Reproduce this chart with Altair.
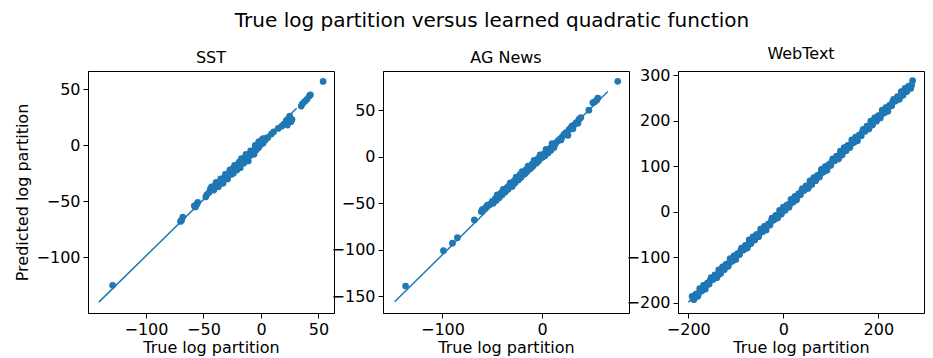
import altair as alt
import pandas as pd

BLUE = "#1f77b4"
FONT = "DejaVu Sans"

# ---------------- SST ----------------
sst_x = [-47, -45, -44, -42, -41, -40, -38, -37, -36, -34, -33, -32, -30, -29, -28, -26, -25, -24,
         -22, -21, -20, -19, -18, -16, -15, -14, -13, -12, -11, -10, -9, -8, -7, -6, -5, -4, -3, -2,
         -1, 0, 1, 2, 3, 1, 4, 6, 9, 11, 15, 18, 20, 22, 24, 25, 26, 27, 23, 35, 36, 38, 40, 42, 43,
         54, -48, -55, -56, -57, -58, -68, -69, -70, -129,
         -43, -39, -35, -31, -27, -23, -17, -13, -9, -5, -2, 2, 0,
         -40, -33, -26, -19, -12, -6]
sst_y = [-44, -42, -39, -38, -40, -36, -35, -37, -33, -31, -34, -29, -27, -30, -25, -24, -21, -25,
         -19, -22, -17, -15, -20, -14, -16, -11, -13, -10, -14, -8, -9, -6, -5, -8, -3, -4, -1, -2,
         0, 1, 3, 2, 6, 5, 5, 7, 10, 12, 15, 17, 19, 22, 24, 26, 21, 23, 18, 35, 37, 39, 41, 44, 45,
         57, -46, -51, -53, -55, -54, -64, -67, -68, -125,
         -37, -33, -30, -26, -22, -18, -12, -8, -5, 0, 3, 6, 4,
         -38, -32, -26, -18, -13, -6]
sst_line_x = [-141, 31]
sst_line_y = [-140, 33]

# ---------------- AG News ----------------
ag_x = [-52, -50, -49, -47, -46, -44, -43, -41, -40, -38, -37, -35, -34, -33, -31, -30, -28, -27,
        -25, -24, -22, -21, -19, -18, -16, -15, -13, -12, -10, -9, -7, -6, -4, -3, -1, 0, 2, 3, 5,
        6, 8, 9, 11, 12, 14, 16, 18, 20, 22, 24, 26, 27, 29, 30, 32, 34, 35, 37, 39, 47, 51, 53, 55,
        56, 76, -55, -57, -60, -61, -68, -85, -90, -99, -137,
        -45, -39, -32, -26, -20, -14, -8, -2, 4, 10, -36, -29, -23, -17, -11, -5, 1, 7, 13, 19,
        25, 31, 36]
ag_y = [-51, -48, -50, -45, -47, -42, -44, -39, -41, -36, -38, -33, -35, -31, -29, -32, -26, -28,
        -23, -25, -19, -22, -17, -19, -14, -16, -11, -13, -8, -10, -5, -7, -2, -4, 1, -1, 3, 1, 6,
        4, 9, 7, 12, 10, 15, 17, 19, 21, 24, 26, 23, 29, 31, 33, 34, 36, 37, 40, 42, 50, 58, 59, 61,
        63, 81, -52, -55, -57, -59, -68, -87, -93, -101, -139,
        -41, -35, -28, -22, -16, -10, -4, 2, 8, 14, -36, -30, -24, -18, -12, -6, 0, 6, 13, 18,
        25, 30, 36]
ag_line_x = [-148, 66]
ag_line_y = [-156, 70]

# ---------------- WebText ----------------
web_x = [-192, -188, -184, -180, -176, -172, -168, -164, -160, -156, -152, -148, -144, -140, -136,
         -132, -128, -124, -120, -116, -112, -108, -104, -100, -96, -92, -88, -84, -80, -76, -72,
         -68, -64, -60, -56, -52, -48, -44, -40, -36, -32, -28, -24, -20, -16, -12, -8, -4, 0, 4, 8,
         12, 16, 20, 24, 28, 32, 36, 40, 44, 48, 52, 56, 60, 64, 68, 72, 76, 80, 84, 88, 92, 96,
         100, 104, 108, 112, 116, 120, 124, 128, 132, 136, 140, 144, 148, 152, 156, 160, 164, 168,
         172, 176, 180, 184, 188, 192, 196, 200, 204, 208, 212, 216, 220, 224, 228, 232, 236, 240,
         244, 248, 252, 256, 260, 264, 268, 272,
         -190, -186, -182, -178, -174, -170, -166, -162, -158, -154, -150, -146, -142, -138, -134,
         -130, -126, -122, -118, -114, -110, -106, -102, -98, -94, -90, -86, -82, -78, -74, -70,
         -66, -62, -58, -54, -50, -46, -42, -38, -34, -30, -26, -22, -18, -14, -10, -6, -2, 2, 6,
         10, 14, 18, 22, 26, 30, 34, 38, 42, 46, 50, 54, 58, 62, 66, 70, 74, 78, 82, 86, 90, 94,
         98, 102, 106, 110, 114, 118, 122, 126, 130, 134, 138, 142, 146, 150, 154, 158, 162, 166,
         170, 174, 178, 182, 186, 190, 194, 198, 202, 206, 210, 214, 218, 222, 226, 230, 234, 238,
         242, 246, 250, 254, 258, 262, 266, 270]
web_y = [-186, -193, -181, -186, -169, -174, -162, -170, -157, -159, -145, -149, -139, -145, -128,
         -136, -121, -127, -115, -120, -103, -109, -97, -105, -92, -94, -80, -84, -74, -80, -62,
         -70, -55, -62, -50, -55, -38, -44, -32, -40, -27, -29, -14, -18, -8, -14, 3, -5, 10, 3, 15,
         10, 27, 21, 33, 26, 39, 37, 51, 47, 57, 51, 68, 60, 75, 68, 80, 76, 93, 87, 99, 91, 104,
         102, 116, 112, 122, 116, 133, 125, 141, 134, 146, 141, 158, 152, 164, 156, 169, 167, 181,
         177, 188, 182, 199, 191, 206, 199, 211, 206, 223, 217, 229, 221, 234, 233, 247, 243, 253,
         247, 264, 256, 271, 264, 276, 271, 288,
         -192, -184, -182, -179, -172, -172, -162, -161, -159, -151, -149, -146, -140, -140, -130,
         -129, -127, -118, -116, -113, -107, -107, -97, -96, -94, -86, -84, -81, -75, -74, -64,
         -63, -61, -53, -51, -48, -42, -42, -32, -31, -29, -21, -18, -15, -9, -9, 1, 2, 4, 12,
         14, 17, 23, 23, 34, 35, 37, 45, 47, 50, 56, 56, 66, 67, 69, 77, 79, 83, 89, 89, 99, 100,
         102, 110, 112, 115, 121, 121, 131, 133, 135, 143, 145, 148, 154, 154, 164, 165, 167, 175,
         177, 180, 187, 187, 197, 198, 200, 208, 210, 213, 219, 219, 229, 230, 233, 241, 243, 246,
         252, 252, 262, 263, 265, 273, 275, 278]
web_line_x = [-200, 268]
web_line_y = [-199, 280]

X_TITLE = "True log partition"
Y_TITLE = "Predicted log partition"


def panel(name, xs, ys, lx, ly, xdom, ydom, xticks, yticks, show_ytitle):
    pts_df = pd.DataFrame({"x": xs, "y": ys})
    line_df = pd.DataFrame({"x": lx, "y": ly})
    xscale = alt.Scale(domain=xdom, nice=False, zero=False)
    yscale = alt.Scale(domain=ydom, nice=False, zero=False)
    xaxis = alt.Axis(values=xticks, title=X_TITLE, titlePadding=2)
    if show_ytitle:
        yaxis = alt.Axis(values=yticks, title=Y_TITLE, titlePadding=6)
    else:
        yaxis = alt.Axis(values=yticks, title="")
    line = alt.Chart(line_df).mark_line(color=BLUE, strokeWidth=1.5).encode(
        x=alt.X("x:Q", scale=xscale, axis=xaxis),
        y=alt.Y("y:Q", scale=yscale, axis=yaxis),
    )
    pts = alt.Chart(pts_df).mark_circle(color=BLUE, size=45, opacity=1).encode(
        x=alt.X("x:Q"),
        y=alt.Y("y:Q"),
    )
    return alt.layer(line, pts).properties(
        width=246,
        height=242,
        title=alt.TitleParams(name, fontSize=16, font=FONT, fontWeight="normal",
                              color="black", offset=5),
    )


p1 = panel("SST", sst_x, sst_y, sst_line_x, sst_line_y, [-150.4, 63.5], [-149.7, 66.3],
           [-100, -50, 0, 50], [-100, -50, 0, 50], True)
p2 = panel("AG News", ag_x, ag_y, ag_line_x, ag_line_y, [-159.7, 87.3], [-168, 92.1],
           [-100, 0], [-150, -100, -50, 0, 50], False)
p3 = panel("WebText", web_x, web_y, web_line_x, web_line_y, [-221.7, 296], [-222.6, 309.2],
           [-200, 0, 200], [-200, -100, 0, 100, 200, 300], False)

chart = alt.hconcat(p1, p2, p3, spacing=49, bounds="flush").properties(
    title=alt.TitleParams("True log partition versus learned quadratic function", fontSize=20,
                          font=FONT, fontWeight="normal", color="black", anchor="middle",
                          offset=15, dx=23),
    padding={"left": 5, "top": 2, "right": 0, "bottom": 0},
).configure_view(
    stroke="black", strokeWidth=1
).configure_axis(
    grid=False, domainColor="black", tickColor="black", labelColor="black", titleColor="black",
    labelFont=FONT, titleFont=FONT, labelFontSize=16, titleFontSize=16, titleFontWeight="normal",
    tickSize=5, labelPadding=3, domainWidth=1, tickWidth=1,
).configure_axisY(labelFlush=False).configure_axisX(labelFlush=False)

chart.save("out.html", embed_options={"renderer": "svg", "actions": False})
